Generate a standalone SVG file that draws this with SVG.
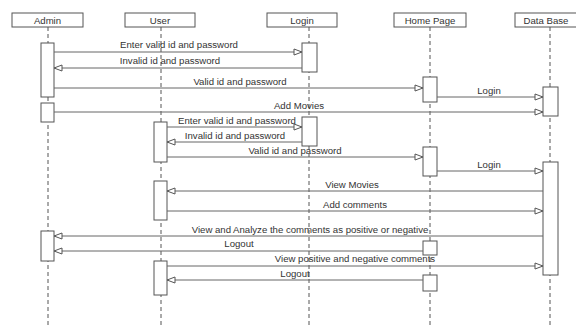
<svg xmlns="http://www.w3.org/2000/svg" width="576" height="327" viewBox="0 0 576 327">
<defs>
<style>
.hd{fill:#fff;stroke:#555;stroke-width:1}
.ll{stroke:#555;stroke-width:1;stroke-dasharray:4,3;fill:none}
.act{fill:#fff;stroke:#555;stroke-width:1}
.msg{stroke:#666;stroke-width:1;fill:none}
text{font-family:"Liberation Sans",Arial,sans-serif;font-size:9.6px;fill:#333}
.c{text-anchor:middle}
</style>
<marker id="ah" markerWidth="10" markerHeight="8" refX="9" refY="4" orient="auto" markerUnits="userSpaceOnUse">
<path d="M1,1 L9,4 L1,7 Z" fill="#fff" stroke="#555" stroke-width="1"/>
</marker>
</defs>
<rect width="576" height="327" fill="#fff"/>
<g id="admin">
<rect class="hd" x="12" y="13" width="71" height="14"/>
<text class="c" x="47.5" y="23.5">Admin</text>
<line class="ll" x1="48" y1="27" x2="48" y2="327"/>
<rect class="act" x="41" y="43" width="13" height="54"/>
<rect class="act" x="41" y="103" width="13" height="19"/>
<rect class="act" x="41" y="231" width="13" height="30"/>
</g>
<g id="user">
<rect class="hd" x="125" y="13" width="70" height="14"/>
<text class="c" x="160" y="23.5">User</text>
<line class="ll" x1="161" y1="27" x2="161" y2="327"/>
<rect class="act" x="154" y="122" width="13" height="40"/>
<rect class="act" x="154" y="181" width="13" height="39"/>
<rect class="act" x="154" y="261" width="13" height="34"/>
</g>
<g id="login">
<rect class="hd" x="267" y="13" width="70" height="14"/>
<text class="c" x="302" y="23.5">Login</text>
<line class="ll" x1="309" y1="27" x2="309" y2="327"/>
<rect class="act" x="302" y="43" width="15" height="29"/>
<rect class="act" x="302" y="117" width="15" height="29"/>
</g>
<g id="homepage">
<rect class="hd" x="394" y="13" width="72" height="14"/>
<text class="c" x="430" y="23.5">Home Page</text>
<line class="ll" x1="430" y1="27" x2="430" y2="327"/>
<rect class="act" x="423" y="77" width="14" height="25"/>
<rect class="act" x="423" y="147" width="14" height="29"/>
<rect class="act" x="423" y="241" width="14" height="14"/>
<rect class="act" x="423" y="275" width="14" height="16"/>
</g>
<g id="database">
<rect class="hd" x="515" y="13" width="70" height="14"/>
<text class="c" x="546" y="23.5">Data Base</text>
<line class="ll" x1="550" y1="27" x2="550" y2="327"/>
<rect class="act" x="543" y="87" width="15" height="29"/>
<rect class="act" x="543" y="162" width="15" height="113"/>
</g>
<g id="connectors">
<line class="msg" x1="54" y1="52" x2="302" y2="52" marker-end="url(#ah)"/>
<text class="c" x="179" y="48">Enter valid id and password</text>
<line class="msg" x1="302" y1="68" x2="54" y2="68" marker-end="url(#ah)"/>
<text class="c" x="170" y="64">Invalid id and password</text>
<line class="msg" x1="54" y1="88" x2="423" y2="88" marker-end="url(#ah)"/>
<text class="c" x="240" y="84.5">Valid id and password</text>
<line class="msg" x1="437" y1="97" x2="543" y2="97" marker-end="url(#ah)"/>
<text class="c" x="489" y="93.5">Login</text>
<line class="msg" x1="54" y1="112" x2="543" y2="112" marker-end="url(#ah)"/>
<text class="c" x="299" y="108.5">Add Movies</text>
<line class="msg" x1="167" y1="127" x2="302" y2="127" marker-end="url(#ah)"/>
<text class="c" x="237" y="124">Enter valid id and password</text>
<line class="msg" x1="302" y1="142" x2="167" y2="142" marker-end="url(#ah)"/>
<text class="c" x="235" y="138.5">Invalid id and password</text>
<line class="msg" x1="167" y1="157" x2="423" y2="157" marker-end="url(#ah)"/>
<text class="c" x="295" y="154">Valid id and password</text>
<line class="msg" x1="437" y1="171" x2="543" y2="171" marker-end="url(#ah)"/>
<text class="c" x="489" y="168">Login</text>
<line class="msg" x1="543" y1="191" x2="167" y2="191" marker-end="url(#ah)"/>
<text class="c" x="352" y="187.5">View Movies</text>
<line class="msg" x1="167" y1="211" x2="543" y2="211" marker-end="url(#ah)"/>
<text class="c" x="355" y="207.5">Add comments</text>
<line class="msg" x1="543" y1="236" x2="54" y2="236" marker-end="url(#ah)"/>
<text class="c" x="310" y="232.5">View and Analyze the comments as positive or negative</text>
<line class="msg" x1="423" y1="251" x2="54" y2="251" marker-end="url(#ah)"/>
<text class="c" x="239" y="247">Logout</text>
<line class="msg" x1="167" y1="266" x2="543" y2="266" marker-end="url(#ah)"/>
<text class="c" x="355" y="262">View positive and negative comments</text>
<line class="msg" x1="423" y1="280" x2="167" y2="280" marker-end="url(#ah)"/>
<text class="c" x="295" y="276.5">Logout</text>
</g>
</svg>
